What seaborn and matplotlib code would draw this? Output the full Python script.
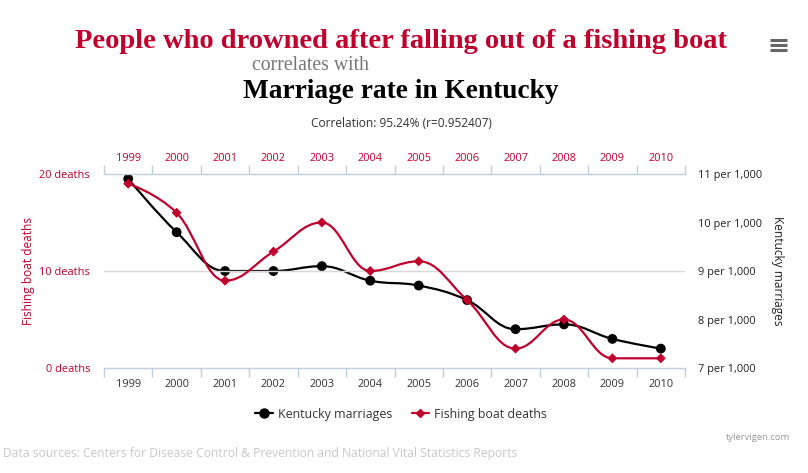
import numpy as np
import pandas as pd
import matplotlib
matplotlib.use("Agg")
import matplotlib.pyplot as plt
from matplotlib.path import Path
from matplotlib.patches import PathPatch
from matplotlib.lines import Line2D
import seaborn as sns

# data
years = [1999, 2000, 2001, 2002, 2003, 2004, 2005, 2006, 2007, 2008, 2009, 2010]
marriages = [10.9, 9.8, 9.0, 9.0, 9.1, 8.8, 8.7, 8.4, 7.8, 7.9, 7.6, 7.4]  # per 1,000
deaths = [19, 16, 9, 12, 15, 10, 11, 7, 2, 5, 1, 1]
death_ticks = [0, 10, 20]
marriage_ticks = [7, 8, 9, 10, 11]

RED = "#C0002C"
AXIS = "#C0D0E0"

sns.set_theme(style="white")
plt.rcParams["font.family"] = ["Open Sans", "DejaVu Sans"]

df = pd.DataFrame({"pos": np.arange(len(years)), "year": years,
                   "marriages": marriages, "deaths": deaths})


def spline_patch(xs, ys, color):
    # highcharts style spline through the points
    sm, den = 1.5, 2.5
    verts = [(xs[0], ys[0])]
    codes = [Path.MOVETO]
    prev_right = (xs[0], ys[0])
    n = len(xs)
    for i in range(1, n):
        x, y = xs[i], ys[i]
        if i < n - 1:
            lx, ly = xs[i - 1], ys[i - 1]
            nx, ny = xs[i + 1], ys[i + 1]
            lcx, lcy = (sm * x + lx) / den, (sm * y + ly) / den
            rcx, rcy = (sm * x + nx) / den, (sm * y + ny) / den
            if rcx != lcx:
                corr = (rcy - lcy) * (rcx - x) / (rcx - lcx) + y - rcy
                lcy += corr
                rcy += corr
            if lcy > ly and lcy > y:
                lcy = max(ly, y); rcy = 2 * y - lcy
            elif lcy < ly and lcy < y:
                lcy = min(ly, y); rcy = 2 * y - lcy
            if rcy > ny and rcy > y:
                rcy = max(ny, y); lcy = 2 * y - rcy
            elif rcy < ny and rcy < y:
                rcy = min(ny, y); lcy = 2 * y - rcy
            left, right = (lcx, lcy), (rcx, rcy)
        else:
            left, right = (x, y), None
        verts += [prev_right, left, (x, y)]
        codes += [Path.CURVE4] * 3
        prev_right = right
    return PathPatch(Path(verts, codes), facecolor="none", edgecolor=color,
                     lw=1.6, zorder=3)


fig = plt.figure(figsize=(8.08, 4.73), dpi=100)
ax = fig.add_axes([104 / 808, 1 - 368 / 473, 581 / 808, 194 / 473])
ax2 = ax.twinx()

# left axis: fishing boat deaths
ax.set_xlim(-0.5, len(years) - 0.5)
ax.set_ylim(0, 20)
ax.set_yticks(death_ticks)
ax.set_yticklabels([f"{t} deaths" for t in death_ticks], color=RED, fontsize=7.9)
ax.tick_params(axis="y", length=0, pad=10)
for t in death_ticks[1:-1]:
    ax.axhline(t, color="#D8D8D8", lw=1, zorder=0)
ax.set_ylabel("Fishing boat deaths", color=RED, fontsize=8.6, labelpad=3)

# right axis: marriages
ax2.set_ylim(7, 11)
ax2.set_yticks(marriage_ticks)
ax2.set_yticklabels([f"{t} per 1,000" for t in marriage_ticks], color="#222222",
                    fontsize=7.9)
ax2.tick_params(axis="y", length=0, pad=9)
ax2.set_ylabel("Kentucky marriages", color="#222222", fontsize=8.6, rotation=270,
               labelpad=16)

for a in (ax, ax2):
    for s in ("left", "right", "top"):
        a.spines[s].set_visible(False)
    a.grid(False)
ax.spines["bottom"].set_color(AXIS)
ax.spines["bottom"].set_linewidth(1)
ax2.spines["bottom"].set_visible(False)

# category axis: tick marks between years, labels at the centers
bounds = np.arange(-0.5, len(years), 1.0)
ax.set_xticks(bounds)
ax.set_xticklabels([])
ax.set_xticks(df["pos"], minor=True)
ax.set_xticklabels(years, minor=True, fontsize=7.9, color="#333333")
ax.tick_params(axis="x", which="major", direction="out", length=6.5, width=1,
               color=AXIS, bottom=True)
ax.tick_params(axis="x", which="minor", length=0, pad=8, bottom=True)

top = ax.secondary_xaxis("top")
top.set_xticks(bounds)
top.set_xticklabels([])
top.set_xticks(df["pos"], minor=True)
top.set_xticklabels(years, minor=True, fontsize=7.9, color=RED)
top.tick_params(axis="x", which="major", direction="out", length=6.5, width=1,
                color=AXIS, top=True)
top.tick_params(axis="x", which="minor", length=0, pad=7, top=True)
top.spines["top"].set_color(AXIS)
top.spines["top"].set_linewidth(1)

# series
ax2.add_patch(spline_patch(df["pos"].tolist(), marriages, "black"))
sns.scatterplot(data=df, x="pos", y="marriages", ax=ax2, color="black",
                marker="o", s=50, edgecolor="none", zorder=4, legend=False)
ax.add_patch(spline_patch(df["pos"].tolist(), deaths, RED))
ax.set_zorder(ax2.get_zorder() + 1)
ax.patch.set_visible(False)
sns.scatterplot(data=df, x="pos", y="deaths", ax=ax, color=RED, marker="D",
                s=26, edgecolor="none", zorder=4, legend=False)
ax.set_xlabel("")
ax2.set_xlabel("")

# titles
fig.text(401 / 808, 1 - 42 / 473, "People who drowned after falling out of a fishing boat",
         ha="center", va="center", fontsize=20.5, fontweight="bold", color=RED,
         family="Liberation Serif")
fig.text(311 / 808, 1 - 65 / 473, "correlates with", ha="center", va="center",
         fontsize=14.2, color="#777777", family="Liberation Serif")
fig.text(401 / 808, 1 - 92 / 473, "Marriage rate in Kentucky", ha="center",
         va="center", fontsize=19.7, fontweight="bold", color="black",
         family="Liberation Serif")
fig.text(401 / 808, 1 - 123 / 473, "Correlation: 95.24% (r=0.952407)", ha="center",
         va="center", fontsize=8.6, color="#333333")

# menu icon
for yy in (40, 45, 50):
    fig.add_artist(Line2D([770 / 808, 787 / 808], [1 - yy / 473] * 2, color="#666666",
                          lw=2.2, solid_capstyle="butt"))

# legend
handles = [Line2D([], [], color="black", lw=1.6, marker="o", markersize=6.5),
           Line2D([], [], color=RED, lw=1.6, marker="D", markersize=4.5)]
fig.legend(handles, ["Kentucky marriages", "Fishing boat deaths"], loc="center",
           bbox_to_anchor=(401 / 808, 1 - 414 / 473), ncol=2, frameon=False,
           fontsize=8.9, handlelength=1.4, handletextpad=0.4, columnspacing=1.6,
           labelcolor="#333333")

fig.text(790 / 808, 1 - 437 / 473, "tylervigen.com", ha="right", va="center",
         fontsize=6.8, color="#999999")
fig.text(3 / 808, 1 - 453 / 473,
         "Data sources: Centers for Disease Control & Prevention and National Vital Statistics Reports",
         ha="left", va="center", fontsize=8.7, color="#C8C8C8")

fig.savefig("out.png", dpi=100)
